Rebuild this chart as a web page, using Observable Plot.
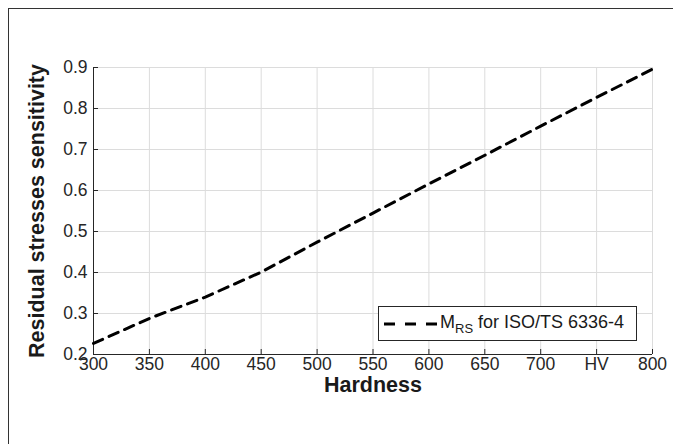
<!DOCTYPE html>
<html>
<head>
<meta charset="utf-8">
<script src="https://cdn.jsdelivr.net/npm/d3@7"></script>
<script src="https://cdn.jsdelivr.net/npm/@observablehq/plot@0.6"></script>
<style>
  html, body { margin: 0; padding: 0; background: #fff; }
  #wrap { position: relative; width: 673px; height: 444px; overflow: hidden; font-family: "Liberation Sans", Arial, sans-serif; }
  #frame { position: absolute; left: 8px; top: 8px; width: 700px; height: 500px; border-top: 1px solid #333; border-left: 1px solid #333; pointer-events: none; }
  #legend { position: absolute; left: 378px; top: 306px; width: 259px; height: 35px; border: 1px solid #262626; background: #fff; box-sizing: border-box; }
  #legend svg { position: absolute; left: 4px; top: 0; }
  #legend .lab { position: absolute; left: 61px; top: 5px; font-size: 18px; color: #1a1a1a; white-space: nowrap; }
  #legend sub { font-size: 13px; vertical-align: -5px; line-height: 0; }
</style>
</head>
<body>
<div id="wrap">
  <div id="chart"></div>
  <div id="frame"></div>
  <div id="legend"></div>
</div>
<script>
// Data
const hardness = [300, 350, 400, 450, 500, 550, 600, 650, 700, 750, 800];
const sensitivity = [0.227, 0.288, 0.340, 0.401, 0.474, 0.545, 0.616, 0.686, 0.757, 0.827, 0.896];
const xTicks = [300, 350, 400, 450, 500, 550, 600, 650, 700, 750, 800];
const xTickLabels = ["300", "350", "400", "450", "500", "550", "600", "650", "700", "HV", "800"];
const yTicks = [0.2, 0.3, 0.4, 0.5, 0.6, 0.7, 0.8, 0.9];
const xLabel = "Hardness";
const yLabel = "Residual stresses sensitivity";
const seriesName = "M";
const seriesSub = "RS";
const seriesRest = " for ISO/TS 6336-4";

const data = hardness.map((h, i) => ({h, s: sensitivity[i]}));

const W = 673, H = 444;
const mL = 93, mR = 21, mT = 67, mB = 90;
const innerW = W - mL - mR, innerH = H - mT - mB;
const tickLen = 5;
const dash = "10,7";

const chart = Plot.plot({
  width: W,
  height: H,
  marginLeft: mL,
  marginRight: mR,
  marginTop: mT,
  marginBottom: mB,
  style: {fontFamily: "'Liberation Sans', Arial, sans-serif", fontSize: "17.5px", color: "#262626", background: "#fff"},
  x: {domain: [300, 800]},
  y: {domain: [0.2, 0.9]},
  marks: [
    Plot.gridX(xTicks, {stroke: "#dcdcdc", strokeOpacity: 1}),
    Plot.gridY(yTicks, {stroke: "#dcdcdc", strokeOpacity: 1}),
    Plot.tickX(xTicks, {x: d => d, insetTop: innerH - tickLen, stroke: "#262626"}),
    Plot.tickY(yTicks, {y: d => d, insetRight: innerW - tickLen, stroke: "#262626"}),
    Plot.ruleX([300], {stroke: "#262626"}),
    Plot.ruleY([0.2], {stroke: "#262626"}),
    Plot.axisX({ticks: xTicks, tickSize: 0, tickPadding: 3, tickFormat: d => xTickLabels[xTicks.indexOf(d)], label: null, fill: "#262626"}),
    Plot.axisY({ticks: yTicks, tickSize: 0, tickPadding: 6, tickFormat: d3.format(".1f"), label: null, fill: "#262626"}),
    Plot.line(data, {x: "h", y: "s", stroke: "#000", strokeWidth: 3, strokeDasharray: dash}),
    Plot.text([xLabel], {frameAnchor: "bottom", dy: 31, lineAnchor: "middle", textAnchor: "middle", fontWeight: "bold", fontSize: 21.5, fill: "#1a1a1a"}),
    Plot.text([yLabel], {frameAnchor: "left", dx: -56, rotate: -90, lineAnchor: "middle", textAnchor: "middle", fontWeight: "bold", fontSize: 21.5, fill: "#1a1a1a"})
  ]
});
document.getElementById("chart").appendChild(chart);

const legend = document.getElementById("legend");
legend.innerHTML = `<svg width="60" height="34"><line x1="1" y1="17" x2="56" y2="17" stroke="#000" stroke-width="3" stroke-dasharray="11,10"/></svg>` +
  `<span class="lab">${seriesName}<sub>${seriesSub}</sub>${seriesRest}</span>`;
</script>
</body>
</html>
